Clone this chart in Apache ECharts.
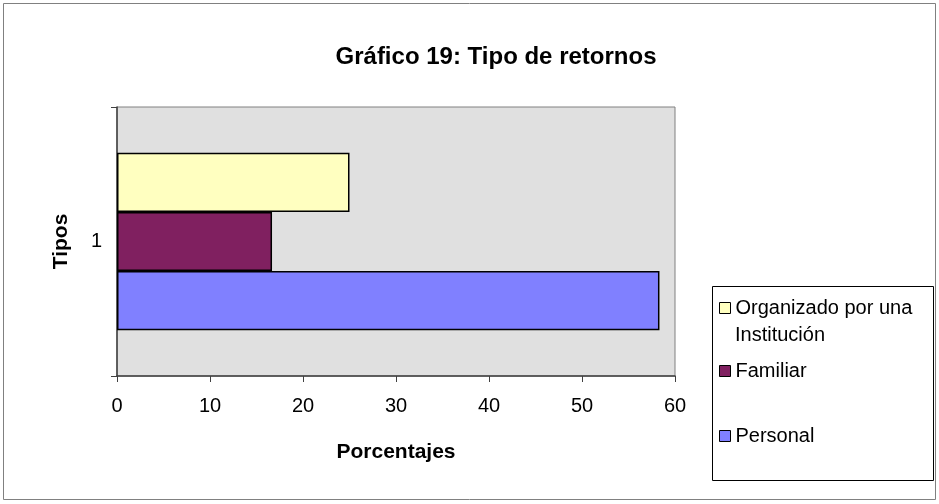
<!DOCTYPE html>
<html>
<head>
    <meta charset="utf-8">
    <title>ECharts</title>
    <script src="https://cdn.jsdelivr.net/npm/echarts@6/dist/echarts.min.js"></script>
    <style>
        body { margin: 0; background: #fff; }
    </style>
</head>
<body>
    <div id="main" style="width: 939px;height:504px;"></div>
    <script type="text/javascript">
        // datos del gráfico
        var categorias = ['1'];
        var organizado = [25];
        var familiar = [16.67];
        var personal = [58.33];
        var ticksX = [0, 10, 20, 30, 40, 50, 60];

        var myChart = echarts.init(document.getElementById('main'));
        var fuente = 'Liberation Sans, Arial, sans-serif';

        var leyendaBase = {
            orient: 'vertical',
            left: 714,
            icon: 'rect',
            itemWidth: 11,
            itemHeight: 11,
            itemGap: 0,
            textStyle: { fontFamily: fuente, fontSize: 20, color: '#000', lineHeight: 24 },
            itemStyle: { borderColor: '#000', borderWidth: 1 },
            selectedMode: false
        };

        var option = {
            backgroundColor: '#fff',
            animation: false,
            title: {
                text: 'Gráfico 19: Tipo de retornos',
                left: 491,
                textAlign: 'center',
                top: 40,
                textStyle: { fontFamily: fuente, fontSize: 24, fontWeight: 'bold', color: '#000' }
            },
            legend: [
                Object.assign({}, leyendaBase, { top: 291, data: ['Organizado por una'] }),
                Object.assign({}, leyendaBase, { top: 354, data: ['Familiar'] }),
                Object.assign({}, leyendaBase, { top: 419, data: ['Personal'] })
            ],
            grid: {
                left: 117,
                top: 107,
                right: 264,
                bottom: 128,
                show: true,
                backgroundColor: '#e0e0e0',
                borderColor: '#808080',
                borderWidth: 1
            },
            xAxis: {
                type: 'value',
                min: 0,
                max: 60,
                interval: 10,
                name: 'Porcentajes',
                nameLocation: 'middle',
                nameGap: 66,
                nameTextStyle: { fontFamily: fuente, fontSize: 21, fontWeight: 'bold', color: '#000' },
                axisLine: { show: true, lineStyle: { color: '#404040', width: 1.5 } },
                axisTick: { show: true, length: 6, lineStyle: { color: '#404040' } },
                splitLine: { show: false },
                axisLabel: {
                    fontFamily: fuente, fontSize: 20, color: '#000', margin: 20,
                    formatter: function (v) { return ticksX.indexOf(v) >= 0 ? String(v) : ''; }
                }
            },
            yAxis: {
                type: 'category',
                data: categorias,
                name: 'Tipos',
                nameLocation: 'middle',
                nameGap: 45,
                nameRotate: 90,
                nameTextStyle: { fontFamily: fuente, fontSize: 21, fontWeight: 'bold', color: '#000' },
                axisLine: { show: true, lineStyle: { color: '#404040', width: 1.5 } },
                axisTick: { show: true, length: 6, lineStyle: { color: '#404040' } },
                axisLabel: { fontFamily: fuente, fontSize: 20, color: '#000', margin: 15 }
            },
            series: [
                {
                    name: 'Organizado por una',
                    type: 'bar',
                    data: organizado,
                    barGap: 0,
                    barCategoryGap: '34%',
                    itemStyle: { color: '#ffffc0', borderColor: '#000', borderWidth: 1.5 }
                },
                {
                    name: 'Familiar',
                    type: 'bar',
                    data: familiar,
                    itemStyle: { color: '#802060', borderColor: '#000', borderWidth: 1.5 }
                },
                {
                    name: 'Personal',
                    type: 'bar',
                    data: personal,
                    itemStyle: { color: '#8080ff', borderColor: '#000', borderWidth: 1.5 }
                }
            ],
            graphic: [
                {
                    type: 'rect',
                    shape: { x: 3.5, y: 3.5, width: 932, height: 496 },
                    style: { fill: 'none', stroke: '#808080', lineWidth: 1 },
                    silent: true
                },
                {
                    type: 'rect',
                    shape: { x: 712.5, y: 286.5, width: 221, height: 194 },
                    style: { fill: 'none', stroke: '#000', lineWidth: 1 },
                    silent: true
                },
                {
                    type: 'text',
                    left: 735,
                    top: 325,
                    style: { text: 'Institución', font: '20px ' + fuente, fill: '#000' },
                    silent: true
                }
            ]
        };

        myChart.setOption(option);
    </script>
</body>
</html>
